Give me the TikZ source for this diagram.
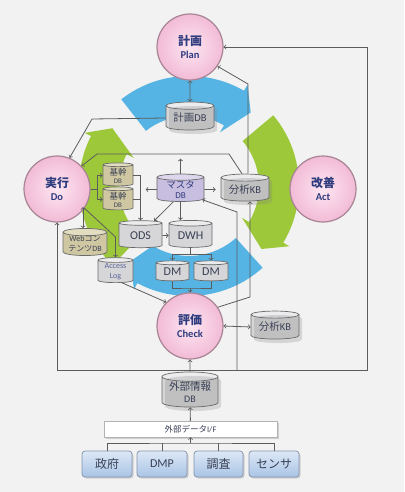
\documentclass[tikz,border=0pt]{standalone}
\usepackage{fontspec}
\setmainfont{Carlito}
\newfontfamily\jp{Noto Sans CJK JP}
\usetikzlibrary{calc,shapes.geometric,shadows}

\definecolor{bgcol}{HTML}{F2F2F2}
\definecolor{linecol}{HTML}{5C5C5C}
\definecolor{txtcol}{HTML}{2F3C7E}
\definecolor{dbtxt}{HTML}{3A4055}
\definecolor{dbedge}{HTML}{6A6A6A}
\definecolor{dbgray}{HTML}{D6D6D8}
\definecolor{dbtop}{HTML}{ECECEE}
\definecolor{khaki}{HTML}{CFC7A2}
\definecolor{khakitop}{HTML}{E2DCC0}
\definecolor{lavender}{HTML}{C8BEDF}
\definecolor{lavendertop}{HTML}{DDD6EC}
\definecolor{pinkin}{HTML}{FDE6F2}
\definecolor{pinkout}{HTML}{F2BBD6}
\definecolor{pinkedge}{HTML}{A88494}
\definecolor{cycblue}{HTML}{56B4E4}
\definecolor{cycgreen}{HTML}{9DC83A}
\definecolor{srctop}{HTML}{DDE8F6}
\definecolor{srcbot}{HTML}{A9C4E6}
\definecolor{srcedge}{HTML}{8193AC}

% one curved arrow of the cycle: colour, tail, head base, tip (screen angles)
\newcommand\cycarrow[4]{%
  \fill[#1] (#2:70) arc[start angle=#2, end angle=#3, radius=70]
    -- (#3:62) -- (#4:96) -- (#3:117) -- (#3:110)
    arc[start angle=#3, end angle=#2, radius=110] -- cycle;}

\begin{document}
\begin{tikzpicture}[x=1pt, y=-1pt, >=to,
    line/.style={draw=linecol, line width=.8pt},
    phase/.style={circle, minimum size=66pt, inner sep=0pt, draw=pinkedge, line width=1.2pt,
      inner color=pinkin, outer color=pinkout, align=center, text=txtcol,
      font=\bfseries\fontsize{10.5}{13}\selectfont},
    db/.style={cylinder, shape border rotate=90, aspect=0.22, draw=dbedge, line width=.7pt,
      cylinder uses custom fill, inner sep=0pt, align=center, text=dbtxt},
    graydb/.style={db, cylinder body fill=dbgray, cylinder end fill=dbtop},
    kikandb/.style={db, cylinder body fill=khaki, cylinder end fill=khakitop},
    masterdb/.style={db, cylinder body fill=lavender, cylinder end fill=lavendertop, text=txtcol},
    shade/.style={drop shadow={shadow xshift=3pt, shadow yshift=-4pt, opacity=.25}},
    srcbox/.style={rectangle, rounded corners=3pt, draw=srcedge, line width=.7pt,
      top color=srctop, bottom color=srcbot, minimum width=50, minimum height=26,
      text=dbtxt, font=\fontsize{12}{14}\selectfont,
      drop shadow={shadow xshift=1.5pt, shadow yshift=-1.5pt, opacity=.3}}]

  \fill[bgcol] (0,0) rectangle (404,492);

  % cycle arrows
  \begin{scope}[shift={(189,186)}]
    \cycarrow{cycblue}{-128}{-60}{-50}
    \cycarrow{cycgreen}{-40}{31}{41}
    \cycarrow{cycblue}{48}{118}{128}
    \cycarrow{cycgreen}{134}{207}{217}
  \end{scope}

  % phases
  \node[phase] (plan) at (190,47) {{\jp\fontsize{12}{14}\selectfont 計画}\\Plan};
  \node[phase] (do) at (57,189) {{\jp\fontsize{12}{14}\selectfont 実行}\\Do};
  \node[phase] (act) at (323,189) {{\jp\fontsize{12}{14}\selectfont 改善}\\Act};
  \node[phase] (check) at (190,326) {{\jp\fontsize{12}{14}\selectfont 評価}\\Check};

  % databases
  \node[graydb, shade, minimum width=48, minimum height=28, font=\fontsize{10.5}{12}\selectfont]
    (plandb) at (190,118) {{\jp 計画}DB};
  \node[kikandb, minimum width=30, minimum height=23, font=\fontsize{7}{8}\selectfont]
    (kikan1) at (118,175.5) {{\jp\fontsize{8.5}{9}\selectfont 基幹}\\DB};
  \node[kikandb, minimum width=30, minimum height=23, font=\fontsize{7}{8}\selectfont]
    (kikan2) at (118,199.5) {{\jp\fontsize{8.5}{9}\selectfont 基幹}\\DB};
  \node[masterdb, minimum width=47, minimum height=27, font=\fontsize{9}{10}\selectfont]
    (master) at (180.5,189.5) {{\jp\fontsize{9.5}{11}\selectfont マスタ}\\DB};
  \node[graydb, shade, minimum width=48, minimum height=27, font=\fontsize{10.5}{12}\selectfont]
    (kbtop) at (245,189.5) {{\jp 分析}KB};
  \node[graydb, minimum width=43, minimum height=27, font=\fontsize{12}{14}\selectfont]
    (ods) at (140.5,235.5) {ODS};
  \node[graydb, minimum width=43, minimum height=27, font=\fontsize{12}{14}\selectfont]
    (dwh) at (190.5,235.5) {DWH};
  \node[kikandb, minimum width=44, minimum height=24, font=\fontsize{8}{9.5}\selectfont]
    (webdb) at (85,244) {Web{\jp コン}\\{\jp テンツ}DB};
  \node[graydb, minimum width=35, minimum height=25, font=\fontsize{8}{9.5}\selectfont, text=txtcol!80]
    (alog) at (115.5,271.5) {Access\\Log};
  \node[graydb, minimum width=33, minimum height=20, font=\fontsize{12}{14}\selectfont]
    (dm1) at (172.5,272) {DM};
  \node[graydb, minimum width=34, minimum height=20, font=\fontsize{12}{14}\selectfont]
    (dm2) at (211,272) {DM};
  \node[graydb, shade, minimum width=48, minimum height=28, font=\fontsize{10.5}{12}\selectfont]
    (kbbot) at (275,327) {{\jp 分析}KB};
  \node[graydb, shade, minimum width=56, minimum height=32, font=\fontsize{10}{12}\selectfont]
    (extdb) at (190,392) {{\jp\fontsize{10.5}{12}\selectfont 外部情報}\\DB};

  % external interface and sources
  \node[rectangle, draw=gray!60, fill=white, minimum width=173, minimum height=16, inner sep=0pt,
    text=dbtxt, font=\fontsize{8.5}{10}\selectfont,
    drop shadow={shadow xshift=1.5pt, shadow yshift=-1.5pt, opacity=.3}]
    (extif) at (190.5,429) {{\jp 外部データ}I/F};
  \node[srcbox] (gov) at (107,464) {\jp 政府};
  \node[srcbox] (dmp) at (162,464) {DMP};
  \node[srcbox, minimum width=49] (survey) at (218.5,464) {\jp 調査};
  \node[srcbox] (sensor) at (274,464) {\jp センサ};

  % plan side
  \draw[line,<->] (plan) -- (plandb);
  \coordinate (pd) at (92,119);
  \draw[line,->] (plandb.west) -- (pd) -- (do.68);
  \coordinate (kd1) at (229,154);
  \coordinate (kd2) at (97,154);
  \draw[line,->] ([xshift=-3pt]kbtop.north) -- (kd1) -- (kd2) -- (do.43);
  \coordinate (kp) at (248,84);
  \draw[line,->] ([xshift=3pt]kbtop.north) -- (kp) -- (plan.-35);

  % outer frame
  \coordinate (fbl) at (57,370);
  \coordinate (fbr) at (367,370);
  \coordinate (ftr) at (367,47);
  \coordinate (fmid) at (237,370);
  \coordinate (fup) at (237,212);
  \draw[line,->] (fbl) -- (fbr) -- (ftr) -- (plan.east);
  \draw[line,->] (fbl) -- (do.south);
  \draw[line,->] (fmid) -- (fup) -- (master.-25);

  % do side
  \draw[line] (do.east) -- ++(7,0) coordinate (dk);
  \draw[line,->] (dk) |- (kikan1.west);
  \draw[line,->] (dk) |- (kikan2.west);
  \draw[line,->] (kikan1.east) -| (ods.north);
  \draw[line] (kikan2.east) -- (kikan2.east -| ods.north);
  \draw[line,<->] ([xshift=-2pt]webdb.north) -- ++(0,-21);
  \coordinate (da) at (115.5,237);
  \draw[line,->] (do.-35) -- (da) -- (alog.north);
  \draw[line,->] (alog.-60) -- (check.135);

  % master data
  \draw[line,->] (master.north) -- ++(0,-15);
  \draw[line,->] (master.west) -- ++(-11,0);
  \draw[line,->,shorten >=5pt] (master.east) -- (kbtop.west);
  \draw[line,->] (master.south) -- (master.south |- dwh.north);
  \draw[line,->] (master.-120) -- (ods.47);

  % warehouse
  \draw[line,->] (ods) -- (dwh);
  \draw[line] (dwh.south) -- ++(0,7) coordinate (dd);
  \draw[line,->] (dd) -| (dm1.north);
  \draw[line,->] (dd) -| (dm2.north);
  \coordinate (dc) at (190,288);
  \draw[line] (dm1.south) |- (dc) -| (dm2.south);
  \draw[line,->] (dc) -- (check.north);

  % check side
  \coordinate (ck) at (250,297);
  \draw[line,->] (check.34) -- (ck) -- (ck |- kbtop.south);
  \draw[line,<->] (check.east) -- (kbbot.west);
  \draw[line,->] (extdb) -- (check);
  \draw[line,->] (extif) -- (extdb);
  \coordinate (bus) at (190.5,443);
  \draw[line] (gov.north) |- (bus) -| (sensor.north);
  \draw[line] (dmp.north) -- (dmp.north |- bus);
  \draw[line] (survey.north) -- (survey.north |- bus);
  \draw[line,->] (bus) -- (extif.south);
\end{tikzpicture}
\end{document}
